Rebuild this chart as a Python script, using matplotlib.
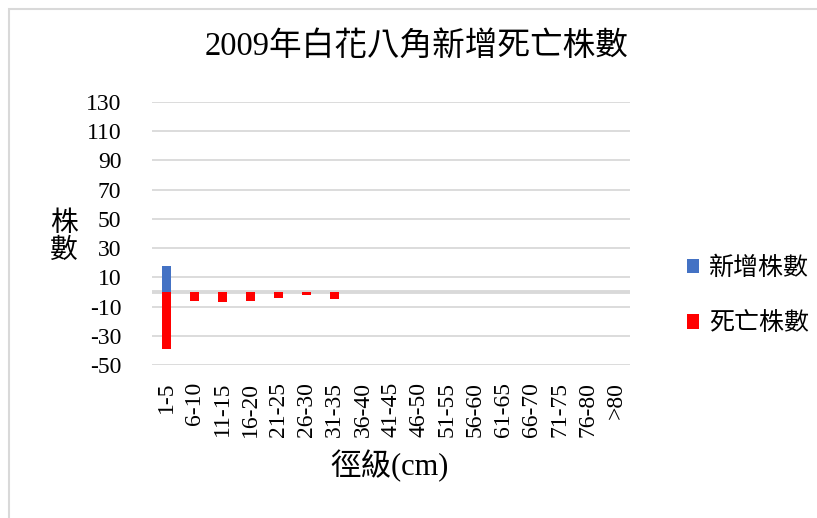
import matplotlib.pyplot as plt
from matplotlib.patches import Rectangle

plt.rcParams['font.family'] = ['Liberation Serif', 'Noto Sans CJK TC']
plt.rcParams['axes.unicode_minus'] = False

classes = ['1-5', '6-10', '11-15', '16-20', '21-25', '26-30', '31-35', '36-40',
           '41-45', '46-50', '51-55', '56-60', '61-65', '66-70', '71-75', '76-80', '>80']
new_trees = [18, 0, 0, 0, 0, 0, 0, 0, 0, 0, 0, 0, 0, 0, 0, 0, 0]
dead_trees = [-39, -6, -7, -6, -4, -2, -5, 0, 0, 0, 0, 0, 0, 0, 0, 0, 0]
yticks = [-50, -30, -10, 10, 30, 50, 70, 90, 110, 130]

W, H = 817, 518
fig = plt.figure(figsize=(W / 100, H / 100), dpi=100)

# chart area border (top/left edges only visible)
fig.patches.append(Rectangle((8.5 / W, -0.1), 1.2, 1 - 8.5 / H + 0.1,
                             transform=fig.transFigure, fill=False,
                             edgecolor='#d9d9d9', linewidth=1.5))

ax = fig.add_axes([152 / W, 1 - 365 / H, (630 - 152) / W, (365 - 102) / H])
x = range(len(classes))
ax.bar(x, new_trees, width=0.32, color='#4472C4', label='新增株數', zorder=3)
ax.bar(x, dead_trees, width=0.32, color='#FF0000', label='死亡株數', zorder=3)

ax.set_xlim(-0.5, len(classes) - 0.5)
ax.set_ylim(-50, 130)
ax.set_yticks(yticks)
for t in yticks:
    ax.axhline(t, color='#d9d9d9', linewidth=1.3, zorder=1)
ax.axhline(0, color='#d9d9d9', linewidth=2.8, zorder=2)

ax.set_xticks(list(x))
ax.set_xticklabels(classes, rotation=90, fontsize=17)
ax.tick_params(axis='x', length=0, pad=12)
ax.tick_params(axis='y', length=0, pad=22, labelsize=17)
for s in ax.spines.values():
    s.set_visible(False)

fig.text(417 / W, 1 - 47 / H, '2009年白花八角新增死亡株數', fontsize=23.5,
         ha='center', va='center')
fig.text(390 / W, 1 - 466 / H, '徑級(cm)', fontsize=22, ha='center', va='center')
fig.text(64 / W, 1 - 238 / H, '株\n數', fontsize=20, ha='center', va='center',
         linespacing=1.1)

leg = fig.legend(loc='center left', bbox_to_anchor=(664 / W, 1 - 296 / H),
                 frameon=False, fontsize=18, handlelength=0.5, handleheight=0.5,
                 handletextpad=0.4, labelspacing=1.3)

fig.savefig('out.png', dpi=100)
